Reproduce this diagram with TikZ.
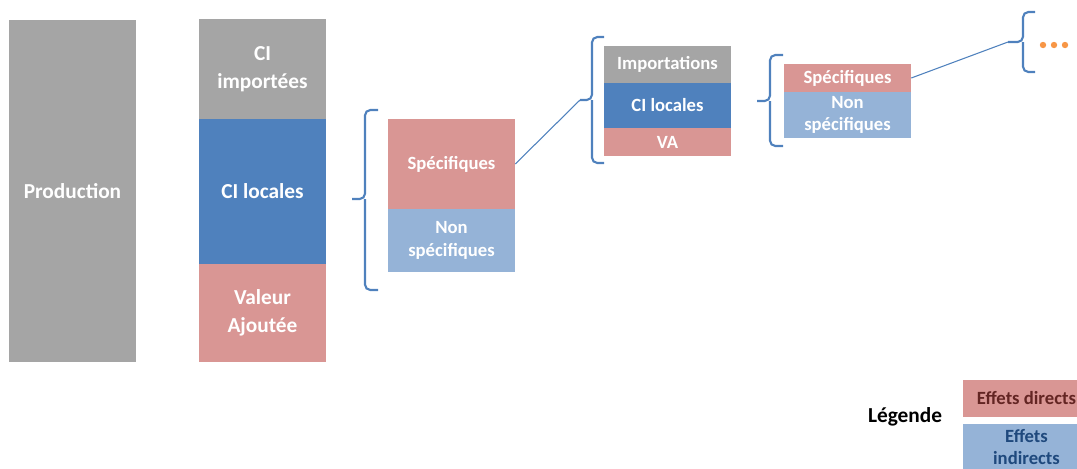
\documentclass[tikz,border=0pt]{standalone}
\usepackage{fontspec}
\setmainfont{Carlito}

\definecolor{gris}{HTML}{A5A5A5}
\definecolor{bleu}{HTML}{4F81BD}
\definecolor{rose}{HTML}{D99694}
\definecolor{bleuclair}{HTML}{95B3D7}
\definecolor{orangepts}{HTML}{F79646}
\definecolor{rougefonce}{HTML}{632523}
\definecolor{bleufonce}{HTML}{1F497D}

\begin{document}
\begin{tikzpicture}[x=0.75pt, y=-0.75pt,
    bloc/.style={inner sep=0pt, minimum width=95.25pt, align=center, text=white, font=\bfseries\fontsize{16}{21}\selectfont},
    petit/.style={bloc, font=\bfseries\fontsize{14}{17}\selectfont},
    accolade/.style={draw=bleu, line width=1.6pt, rounded corners=4pt},
    lien/.style={draw=bleu, line width=0.8pt}]

    % Taille de la figure
    \useasboundingbox (0, 0) rectangle (1077, 468);

    % Production totale
    \node[bloc, fill=gris, minimum height=256.5pt] (prod) at (72.5, 191) {Production};

    % Decomposition de la production
    \node[bloc, fill=gris, minimum height=75pt] (ciimp) at (262.5, 69) {CI\\importées};
    \node[bloc, fill=bleu, minimum height=108.75pt] (ciloc) at (262.5, 191.5) {CI locales};
    \node[bloc, fill=rose, minimum height=73.5pt] (va) at (262.5, 313) {Valeur\\Ajoutée};

    % CI locales : specifiques ou non
    \coordinate (tipun) at (352, 199);
    \draw[accolade] (378, 110) -| (365, 199) -- (tipun);
    \draw[accolade] (378, 290) -| (365, 199);
    \node[petit, fill=rose, minimum height=67.5pt] (spec) at (451.5, 164) {Spécifiques};
    \node[petit, fill=bleuclair, minimum height=47.25pt] (nonspec) at (451.5, 240.5) {Non\\spécifiques};

    % Second tour
    \coordinate (tipdeux) at (580, 100);
    \draw[accolade] (604, 37) -| (592, 100) -- (tipdeux);
    \draw[accolade] (604, 163) -| (592, 100);
    \draw[lien] (spec.east) -- (tipdeux);
    \node[petit, fill=gris, minimum height=27.75pt] (imp) at (667.5, 64.5) {Importations};
    \node[petit, fill=bleu, minimum height=33.75pt] (cilocdeux) at (667.5, 105.5) {CI locales};
    \node[petit, fill=rose, minimum height=21pt] (vadeux) at (667.5, 142) {VA};

    % Troisieme tour
    \coordinate (tiptrois) at (757, 101);
    \draw[accolade] (783, 55) -| (770, 101) -- (tiptrois);
    \draw[accolade] (783, 146) -| (770, 101);
    \node[petit, fill=rose, minimum height=21pt] (specdeux) at (847.5, 78) {Spécifiques};
    \node[petit, fill=bleuclair, minimum height=34.5pt] (nonspecdeux) at (847.5, 115) {Non\\spécifiques};

    % Et ainsi de suite
    \coordinate (tipquatre) at (1008, 42);
    \draw[accolade] (1035, 12) -| (1023, 42) -- (tipquatre);
    \draw[accolade] (1035, 72) -| (1023, 42);
    \draw[lien] (specdeux.east) -- (tipquatre);
    \fill[orangepts] (1043, 45) circle [radius=2.4pt];
    \fill[orangepts] (1054, 45) circle [radius=2.4pt];
    \fill[orangepts] (1065, 45) circle [radius=2.4pt];

    % Legende
    \node[font=\bfseries\fontsize{16}{20}\selectfont] (leg) at (905, 417) {Légende};
    \node[petit, fill=rose, minimum height=27.75pt, text=rougefonce] (direct) at (1026.5, 398.5) {Effets directs};
    \node[petit, fill=bleuclair, minimum height=35.25pt, text=bleufonce] (indirect) at (1026.5, 447) {Effets\\indirects};

\end{tikzpicture}
\end{document}
